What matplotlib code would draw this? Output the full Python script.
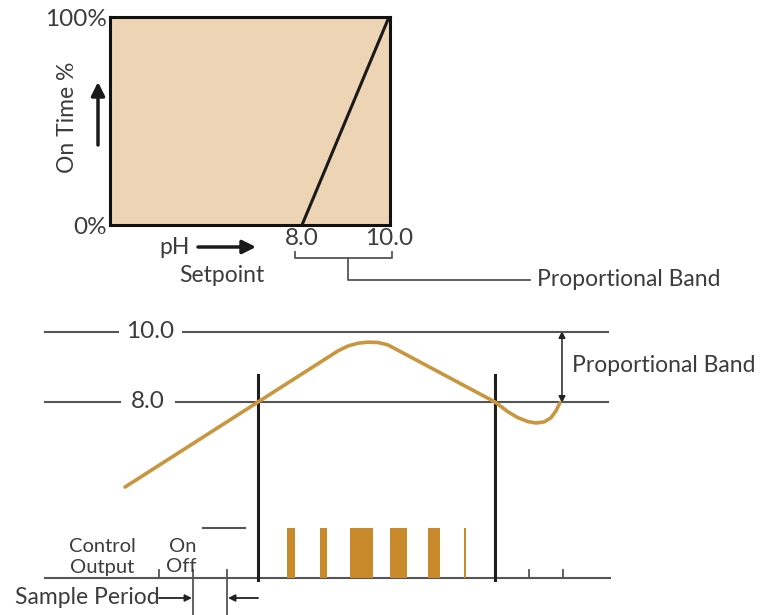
import matplotlib
matplotlib.use('Agg')
import matplotlib.pyplot as plt

plt.rcParams['font.family'] = ['Lato', 'DejaVu Sans']

# ---------------- data ----------------
top_ph = [8.0, 10.0]
top_on = [0, 100]
top_xticks = [8.0, 10.0]
top_xticklabels = ['8.0', '10.0']
top_yticks = [0, 100]
top_yticklabels = ['0%', '100%']

ref_levels = [10.0, 8.0]
ref_labels = ['10.0', '8.0']

curve_t = [125, 258, 338, 348, 358, 368, 378, 388, 495, 508, 518, 528, 536, 544, 551, 556, 560]
curve_ph = [5.57, 8.00, 9.46, 9.60, 9.68, 9.71, 9.70, 9.63, 8.00, 7.72, 7.55, 7.44, 7.40, 7.43, 7.55, 7.75, 7.98]

cross_t = [258, 495]

pulse_t = [291, 323, 361, 398.5, 434, 465]
pulse_w = [8, 7, 23, 17, 12, 2]
pulse_on = [1, 1, 1, 1, 1, 1]
sample_ticks = [159, 193, 227, 529, 563]

# ---------------- style ----------------
W, H = 760, 615
TXT = '#3c3c3c'
GRAY = '#555555'
ORANGE = '#C9963F'
BAR = '#C98A2B'
FS = 16.5
FN = 17.5

fig = plt.figure(figsize=(W / 100, H / 100), dpi=100)

# annotation axes in pixel coordinates
ax = fig.add_axes([0, 0, 1, 1])
ax.set_xlim(0, W)
ax.set_ylim(H, 0)
ax.axis('off')

# ---- top chart ----
ax_top = fig.add_axes([110 / W, 1 - 225 / H, 280 / W, 208 / H])
ax_top.set_facecolor('#ECD4B4')
ax_top.set_xlim(3.586, 10.023)
ax_top.set_ylim(0, 100)
ax_top.plot(top_ph, top_on, color='#1a1a1a', lw=2.2, solid_capstyle='butt')
for s in ax_top.spines.values():
    s.set_linewidth(2.2)
    s.set_color('#111111')
ax_top.set_xticks(top_xticks)
ax_top.set_xticklabels(top_xticklabels, fontsize=FN, color=TXT)
ax_top.set_yticks(top_yticks)
ax_top.set_yticklabels(top_yticklabels, fontsize=FN, color=TXT)
ax_top.tick_params(length=0, pad=2)

ax.text(68, 117, 'On Time %', rotation=90, ha='center', va='center', fontsize=FS, color=TXT)
ax.annotate('', xy=(98, 82), xytext=(98, 145),
            arrowprops=dict(arrowstyle='-|>', lw=2.5, color='#1a1a1a', mutation_scale=20, shrinkA=0, shrinkB=0))
ax.text(175, 247, 'pH', ha='center', va='center', fontsize=FS, color=TXT)
ax.annotate('', xy=(256, 247), xytext=(198, 247),
            arrowprops=dict(arrowstyle='-|>', lw=2.5, color='#1a1a1a', mutation_scale=20, shrinkA=0, shrinkB=0))
ax.text(222, 276, 'Setpoint', ha='center', va='center', fontsize=FS, color=TXT)

# bracket
ax.plot([295, 295, 392, 392], [252, 258, 258, 252], color=GRAY, lw=1.3)
ax.plot([348, 348, 530], [258, 280, 280], color=GRAY, lw=1.3)
ax.text(537, 280, 'Proportional Band', ha='left', va='center', fontsize=FS, color=TXT)

# ---- bottom chart ----
ax_c = fig.add_axes([0, 0, 1, 1])
ax_c.set_xlim(0, W)
ax_c.set_ylim(8 - 213 / 35, 8 + 402 / 35)
ax_c.axis('off')

gaps = [(118, 183), (120, 176)]
for lvl, lab, (g0, g1) in zip(ref_levels, ref_labels, gaps):
    ax_c.plot([45, g0], [lvl, lvl], color=GRAY, lw=1.5)
    ax_c.plot([g1, 608], [lvl, lvl], color=GRAY, lw=1.5)
    ax_c.text((g0 + g1) / 2, lvl, lab, ha='center', va='center', fontsize=FN, color=TXT)

ax_c.plot(curve_t, curve_ph, color=ORANGE, lw=2.6, solid_capstyle='round', solid_joinstyle='round', zorder=3)

for t in cross_t:
    ax.plot([t, t], [375, 580], color='#1e1e1e', lw=2.2, zorder=4)

ax.annotate('', xy=(562, 331), xytext=(562, 403),
            arrowprops=dict(arrowstyle='<|-|>', lw=1.1, color='#222222', mutation_scale=10, shrinkA=0, shrinkB=0))
ax.text(572, 365, 'Proportional Band', ha='left', va='center', fontsize=FS, color=TXT)

# pulses
ax_p = fig.add_axes([0, 1 - 578 / H, 1, 50 / H])
ax_p.set_xlim(0, W)
ax_p.set_ylim(0, 1)
ax_p.axis('off')
ax_p.bar(pulse_t, pulse_on, width=pulse_w, color=BAR, linewidth=0)

# base line, on level, ticks
ax.plot([45, 610], [578, 578], color=GRAY, lw=1.5)
ax.plot([203, 245], [528, 528], color=GRAY, lw=1.5)
for t in sample_ticks:
    ax.plot([t, t], [570, 578], color=GRAY, lw=1.3)
for t in sample_ticks[1:3]:
    ax.plot([t, t], [578, 615], color=GRAY, lw=1.3)

ax.text(102, 547, 'Control', ha='center', va='center', fontsize=14.5, color=TXT)
ax.text(102, 567, 'Output', ha='center', va='center', fontsize=14.5, color=TXT)
ax.text(183, 547, 'On', ha='center', va='center', fontsize=14.5, color=TXT)
ax.text(181, 567, 'Off', ha='center', va='center', fontsize=14.5, color=TXT)

ax.text(160, 598, 'Sample Period', ha='right', va='center', fontsize=FS, color=TXT)
ax.annotate('', xy=(192, 598), xytext=(159, 598),
            arrowprops=dict(arrowstyle='-|>', lw=1.3, color='#222222', mutation_scale=10, shrinkA=0, shrinkB=0))
ax.annotate('', xy=(228, 598), xytext=(258, 598),
            arrowprops=dict(arrowstyle='-|>', lw=1.3, color='#222222', mutation_scale=10, shrinkA=0, shrinkB=0))

fig.savefig('out.png', dpi=100)
